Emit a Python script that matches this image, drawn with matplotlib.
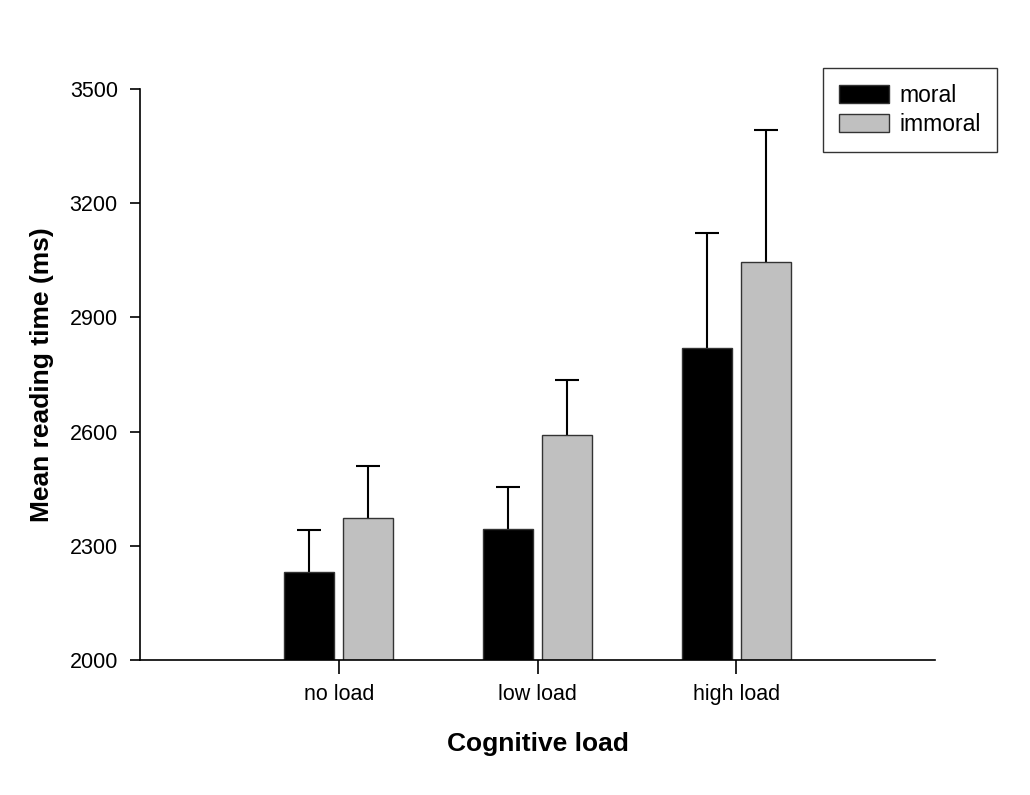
import numpy as np
import matplotlib.pyplot as plt
from matplotlib.patches import Patch

plt.rcParams['font.family'] = ['Liberation Sans', 'DejaVu Sans']

categories = ['no load', 'low load', 'high load']
moral = [2231, 2344, 2820]
immoral = [2372, 2591, 3045]
moral_err = [110, 110, 302]
immoral_err = [138, 145, 347]

fig = plt.figure(figsize=(10.3, 7.95), dpi=100)
ax = fig.add_axes([140/1030, 1-660/795, 795/1030, 571/795])

x = np.arange(1, len(categories)+1)
w = 0.25
off = 0.148
ax.bar(x-off, moral, w, color='black', edgecolor='#333333', linewidth=1, zorder=2)
ax.bar(x+off, immoral, w, color='#c0c0c0', edgecolor='#333333', linewidth=1, zorder=2)

# error bars go up only, cap on top
for xs, vals, errs in [(x-off, moral, moral_err), (x+off, immoral, immoral_err)]:
    tops = np.array(vals) + np.array(errs)
    ax.vlines(xs, vals, tops, color='black', linewidth=1.5, zorder=1)
    ax.plot(xs, tops, ls='none', marker='_', markersize=17, markeredgewidth=1.5,
            color='black', zorder=1, clip_on=False)

ax.set_xlim(0, 4)
ax.set_ylim(2000, 3500)
ax.set_yticks([2000, 2300, 2600, 2900, 3200, 3500])
ax.set_xticks(x)
ax.set_xticklabels(categories)
ax.spines['top'].set_visible(False)
ax.spines['right'].set_visible(False)
for s in ['left', 'bottom']:
    ax.spines[s].set_linewidth(1.2)
ax.tick_params(axis='y', direction='out', length=7, width=1.2, labelsize=15.5, pad=9)
ax.tick_params(axis='x', direction='out', length=10, width=1.2, labelsize=15.5, pad=7)

ax.set_xlabel('Cognitive load', fontsize=19, fontweight='bold', labelpad=20)
ax.set_ylabel('Mean reading time (ms)', fontsize=19, fontweight='bold', labelpad=11)

handles = [Patch(facecolor='black', edgecolor='#333333'),
           Patch(facecolor='#c0c0c0', edgecolor='#333333')]
leg = fig.legend(handles, ['moral', 'immoral'], loc='upper left',
                 bbox_to_anchor=(823/1030, 1-68/795), fontsize=16.5, fancybox=False,
                 edgecolor='#333333', framealpha=1, handlelength=2.2, handleheight=0.8,
                 borderpad=0.7, labelspacing=0.25, handletextpad=0.45, borderaxespad=0)
leg.get_frame().set_linewidth(1.0)

fig.savefig('out.png', dpi=100)
